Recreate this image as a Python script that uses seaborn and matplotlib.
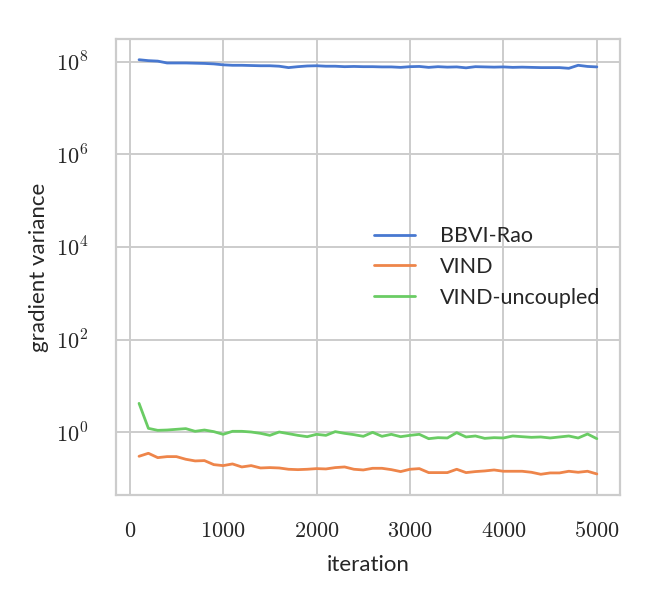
import numpy as np
import pandas as pd
import matplotlib
matplotlib.use('Agg')
import matplotlib.pyplot as plt
import seaborn as sns
from matplotlib.ticker import FuncFormatter

# iterations at which gradient variance was measured
iterations = list(range(100, 5001, 100))

# log10 of gradient variance
log_var_bbvi = [8.04, 8.02, 8.01, 7.97, 7.97, 7.97, 7.965, 7.96, 7.95, 7.93,
                7.92, 7.92, 7.915, 7.91, 7.91, 7.90, 7.87, 7.89, 7.905, 7.91,
                7.90, 7.90, 7.89, 7.895, 7.89, 7.89, 7.885, 7.885, 7.875, 7.89,
                7.895, 7.875, 7.89, 7.88, 7.885, 7.865, 7.89, 7.885, 7.88, 7.885,
                7.875, 7.88, 7.875, 7.87, 7.87, 7.87, 7.855, 7.92, 7.895, 7.885]
log_var_vind = [-0.517, -0.452, -0.546, -0.524, -0.524, -0.581, -0.617, -0.61, -0.697, -0.718,
                -0.682, -0.747, -0.718, -0.769, -0.761, -0.769, -0.797, -0.805, -0.797, -0.783,
                -0.79, -0.761, -0.747, -0.797, -0.812, -0.776, -0.776, -0.805, -0.847, -0.797,
                -0.783, -0.869, -0.869, -0.869, -0.797, -0.869, -0.847, -0.833, -0.812, -0.84,
                -0.84, -0.84, -0.862, -0.905, -0.876, -0.876, -0.84, -0.862, -0.84, -0.898]
log_var_uncoupled = [0.625, 0.086, 0.043, 0.05, 0.065, 0.08, 0.022, 0.05, 0.015, -0.043,
                     0.022, 0.022, 0.007, -0.022, -0.065, 0.007, -0.029, -0.065, -0.094, -0.043,
                     -0.065, 0.015, -0.022, -0.05, -0.086, 0.0, -0.086, -0.043, -0.094, -0.065,
                     -0.043, -0.137, -0.115, -0.122, -0.007, -0.1, -0.079, -0.13, -0.115, -0.122,
                     -0.079, -0.094, -0.108, -0.1, -0.122, -0.1, -0.079, -0.122, -0.036, -0.137]

methods = ['BBVI-Rao', 'VIND', 'VIND-uncoupled']
x_ticks = [0, 1000, 2000, 3000, 4000, 5000]
y_ticks = [1e0, 1e2, 1e4, 1e6, 1e8]

frames = []
for name, logv in zip(methods, [log_var_bbvi, log_var_vind, log_var_uncoupled]):
    frames.append(pd.DataFrame({'iteration': iterations,
                                'variance': 10 ** np.array(logv),
                                'method': name}))
df = pd.concat(frames, ignore_index=True)

sns.set_theme(style='whitegrid', palette='muted')
plt.rcParams['font.family'] = ['Lato', 'DejaVu Sans']
plt.rcParams['mathtext.fontset'] = 'cm'
plt.rcParams['axes.linewidth'] = 1.6
plt.rcParams['grid.linewidth'] = 1.4

fig, ax = plt.subplots(figsize=(6.6, 6.0), dpi=100)
sns.lineplot(data=df, x='iteration', y='variance', hue='method', ax=ax, linewidth=2.0)
ax.set_yscale('log')
ax.set_xticks(x_ticks)
ax.set_yticks(y_ticks)
ax.minorticks_off()
ax.xaxis.set_major_formatter(FuncFormatter(lambda v, p: f'${v:.0f}$'))
ax.yaxis.set_major_formatter(FuncFormatter(lambda v, p: f'$10^{{{int(round(np.log10(v)))}}}$'))
ax.tick_params(axis='x', labelsize=16, pad=12.5)
ax.tick_params(axis='y', labelsize=16, pad=14)
ax.set_xlabel('iteration', fontsize=16, labelpad=10)
ax.set_ylabel('gradient variance', fontsize=16, labelpad=5)
ax.legend(loc='center right', frameon=False, fontsize=15.5, title=None,
          handlelength=1.9, handletextpad=1.15)

fig.subplots_adjust(left=0.176, right=0.939, top=0.935, bottom=0.175)
fig.savefig('out.png', dpi=100)
